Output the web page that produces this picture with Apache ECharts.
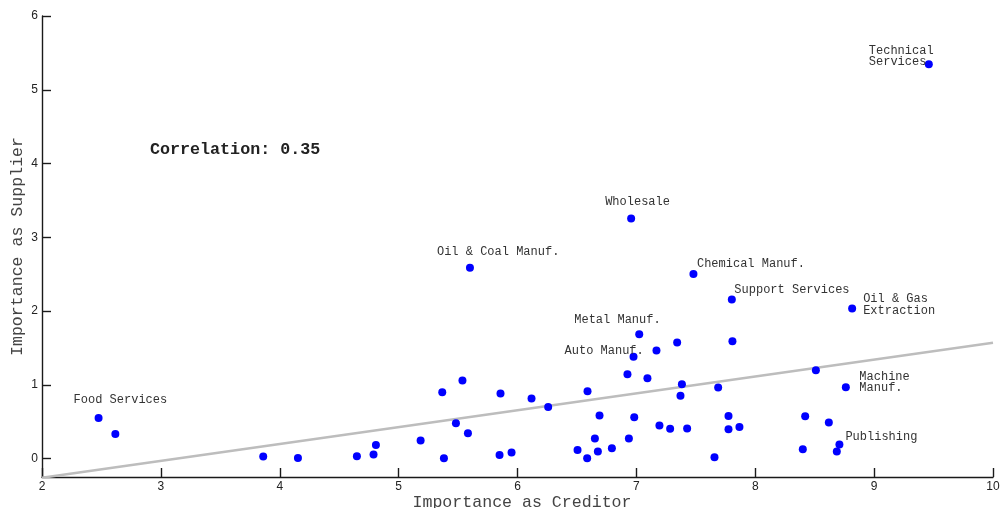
<!DOCTYPE html>
<html>
<head>
<meta charset="utf-8">
<title>Importance as Creditor vs. Importance as Supplier</title>
<script src="https://cdn.jsdelivr.net/npm/echarts@6/dist/echarts.min.js"></script>
<style>
  html, body { margin: 0; padding: 0; background: #ffffff; }
  #chart { width: 1003px; height: 508px; }
</style>
</head>
<body>
<div id="chart"></div>
<script>
// Industry names (empty string = unlabelled point)
const industries = [
  'Food Services', '', '', '', '', '', '', '', '', '',
  '', '', '', 'Oil & Coal Manuf.', '', '', '', '', '', '',
  '', '', '', '', '', '', '', '', 'Wholesale', 'Auto Manuf.',
  '', 'Metal Manuf.', '', '', '', '', '', '', '', '',
  'Chemical Manuf.', '', '', '', '', 'Support Services', '', '', '', '',
  '', '', '', 'Publishing', 'Machine\nManuf.', 'Oil & Gas\nExtraction', 'Technical\nServices'
];

// Importance as creditor (x)
const creditor = [
  2.476, 2.617, 3.861, 4.153, 4.649, 4.789, 4.809, 5.185, 5.367, 5.381,
  5.482, 5.537, 5.583, 5.600, 5.849, 5.857, 5.950, 6.118, 6.258, 6.505,
  6.586, 6.589, 6.651, 6.676, 6.690, 6.794, 6.925, 6.937, 6.956, 6.976,
  6.982, 7.024, 7.093, 7.169, 7.194, 7.284, 7.343, 7.371, 7.383, 7.427,
  7.480, 7.657, 7.688, 7.775, 7.775, 7.803, 7.808, 7.867, 8.400, 8.420,
  8.510, 8.619, 8.686, 8.708, 8.762, 8.815, 9.460
];

// Importance as supplier (y)
const supplier = [
  0.551, 0.334, 0.027, 0.008, 0.031, 0.054, 0.185, 0.244, 0.900, 0.004,
  0.479, 1.058, 0.343, 2.586, 0.049, 0.882, 0.081, 0.814, 0.700, 0.117,
  0.004, 0.913, 0.271, 0.095, 0.583, 0.140, 1.144, 0.271, 3.256, 1.379,
  0.560, 1.687, 1.090, 1.465, 0.448, 0.405, 1.574, 0.850, 1.008, 0.407,
  2.501, 0.018, 0.963, 0.578, 0.398, 2.157, 1.592, 0.429, 0.126, 0.574,
  1.198, 0.488, 0.095, 0.190, 0.967, 2.035, 5.346
];

// Least-squares fit line endpoints
const fitX = [2, 10];
const fitY = [-0.26, 1.57];

const correlation = 0.35;

// Axis ticks
const xTicks = [2, 3, 4, 5, 6, 7, 8, 9, 10];
const yTicks = [0, 1, 2, 3, 4, 5, 6];

// Label placement relative to the dot centre (pixels)
const labelOffsets = {
  'Food Services': [-25, -18],
  'Oil & Coal Manuf.': [-33, -16],
  'Wholesale': [-26, -16.5],
  'Metal Manuf.': [-65, -14.5],
  'Auto Manuf.': [-69, -6],
  'Chemical Manuf.': [3.5, -10.5],
  'Support Services': [2.5, -9.5],
  'Publishing': [6, -8],
  'Machine\nManuf.': [13.5, -5],
  'Oil & Gas\nExtraction': [11, -3.5],
  'Technical\nServices': [-60, -8]
};

const mono = 'Liberation Mono, Courier New, monospace';

const points = creditor.map(function (x, i) {
  const name = industries[i];
  const item = { value: [x, supplier[i]], name: name };
  if (name) {
    const off = labelOffsets[name] || [0, -12];
    item.label = {
      show: true,
      position: 'inside',
      align: 'left',
      verticalAlign: 'middle',
      offset: off,
      formatter: name,
      fontFamily: mono,
      fontSize: 12,
      lineHeight: 11.5,
      color: '#333333'
    };
  }
  return item;
});

const axisLineStyle = { color: '#1a1a1a', width: 1.4 };

const chart = echarts.init(document.getElementById('chart'), null, { renderer: 'canvas' });

chart.setOption({
  animation: false,
  backgroundColor: '#ffffff',
  grid: { left: 42, right: 10, top: 16, bottom: 31, containLabel: false, outerBoundsMode: 'none' },
  graphic: [{
    type: 'text',
    x: 150,
    y: 149.5,
    style: {
      text: 'Correlation: ' + correlation.toFixed(2),
      fontFamily: mono,
      fontWeight: 'bold',
      fontSize: 16.7,
      fill: '#222222',
      textVerticalAlign: 'middle'
    }
  }],
  xAxis: {
    type: 'value',
    min: xTicks[0],
    max: xTicks[xTicks.length - 1],
    name: 'Importance as Creditor',
    nameLocation: 'middle',
    nameGap: 17,
    nameMoveOverlap: false,
    nameTextStyle: { fontFamily: mono, fontSize: 16.6, color: '#444444', padding: [0, 0, 0, 9] },
    axisLine: { show: true, onZero: false, lineStyle: axisLineStyle },
    axisTick: { show: true, inside: true, length: 9, lineStyle: axisLineStyle, customValues: xTicks },
    axisLabel: {
      fontFamily: 'Liberation Sans, Arial, sans-serif', fontSize: 12, color: '#222222', margin: 4,
      customValues: xTicks
    },
    splitLine: { show: false }
  },
  yAxis: {
    type: 'value',
    min: -0.25,
    max: yTicks[yTicks.length - 1],
    name: 'Importance as Supplier',
    nameLocation: 'middle',
    nameGap: 16,
    nameMoveOverlap: false,
    nameTextStyle: { fontFamily: mono, fontSize: 16.6, color: '#444444' },
    axisLine: { show: true, onZero: false, lineStyle: axisLineStyle },
    axisTick: { show: true, inside: true, length: 9, lineStyle: axisLineStyle, customValues: yTicks },
    axisLabel: {
      fontFamily: 'Liberation Sans, Arial, sans-serif', fontSize: 12, color: '#222222', margin: 4,
      customValues: yTicks
    },
    splitLine: { show: false }
  },
  series: [
    {
      type: 'line',
      data: fitX.map(function (x, i) { return [x, fitY[i]]; }),
      symbol: 'none',
      silent: true,
      clip: true,
      lineStyle: { color: '#bdbdbd', width: 2.5 },
      z: 1
    },
    {
      type: 'scatter',
      data: points,
      symbol: 'circle',
      symbolSize: 8,
      itemStyle: { color: '#0000ff', opacity: 1 },
      clip: false,
      z: 3
    }
  ]
});
</script>
</body>
</html>
